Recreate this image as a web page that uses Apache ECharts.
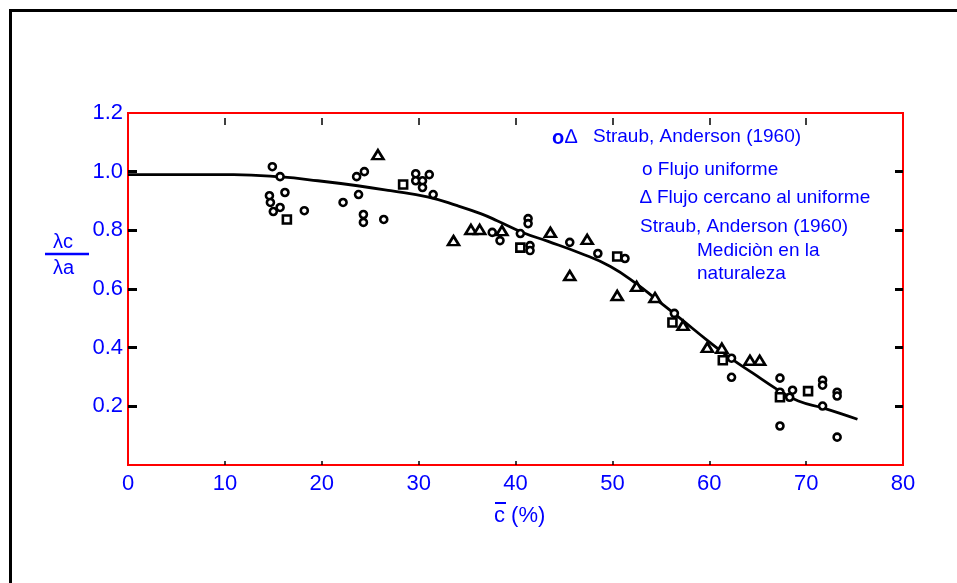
<!DOCTYPE html>
<html>
<head>
<meta charset="utf-8">
<script src="https://cdn.jsdelivr.net/npm/echarts@6/dist/echarts.min.js"></script>
<style>
  html, body { margin: 0; padding: 0; background: #ffffff; }
  #chart { width: 957px; height: 583px; }
</style>
</head>
<body>
<div id="chart"></div>
<script>
// Fitted curve of lambda_c / lambda_a against mean concentration c (%)
const curveX = [0, 5, 10.9, 15.8, 19.6, 23.7, 27.1, 30.9, 34.0, 36.4, 38.1, 40.8, 43.3, 46.7, 49.8, 52.6, 54.4, 57.0, 59.8, 62.2, 64.5, 67.0, 69.2, 71.8, 75.3];
const curveY = [0.99, 0.99, 0.99, 0.982, 0.969, 0.952, 0.935, 0.914, 0.884, 0.857, 0.833, 0.792, 0.763, 0.722, 0.677, 0.615, 0.568, 0.500, 0.425, 0.364, 0.313, 0.258, 0.218, 0.194, 0.156];

// Uniform flow (o)
const circleX = [14.9, 15.7, 14.6, 14.7, 16.2, 15.7, 15.0, 18.2, 22.2, 23.8, 23.6, 24.4, 24.3, 24.3, 26.4, 29.7, 31.1, 29.7, 30.4, 30.4, 31.5, 37.6, 38.4, 40.5, 41.3, 41.3, 41.5, 41.5, 45.6, 48.5, 51.3, 56.4, 62.3, 62.3, 67.3, 67.3, 68.6, 68.3, 71.7, 71.7, 71.7, 73.2, 73.2, 67.3, 73.2];
const circleY = [1.017, 0.983, 0.918, 0.895, 0.929, 0.878, 0.864, 0.867, 0.895, 0.922, 0.983, 1.0, 0.854, 0.827, 0.837, 0.993, 0.99, 0.969, 0.969, 0.946, 0.922, 0.793, 0.765, 0.789, 0.840, 0.823, 0.748, 0.731, 0.759, 0.721, 0.704, 0.517, 0.364, 0.299, 0.296, 0.248, 0.255, 0.231, 0.289, 0.272, 0.201, 0.248, 0.235, 0.133, 0.095];

// Field measurements (squares)
const squareX = [16.4, 28.4, 40.5, 50.5, 56.2, 61.4, 67.3, 70.2];
const squareY = [0.837, 0.956, 0.741, 0.711, 0.486, 0.357, 0.231, 0.252];

// Near-uniform flow (triangles)
const triangleX = [25.8, 33.6, 35.4, 36.3, 38.6, 43.6, 47.4, 45.6, 50.5, 52.5, 54.4, 57.3, 59.8, 61.3, 64.2, 65.2];
const triangleY = [1.058, 0.765, 0.803, 0.803, 0.799, 0.793, 0.769, 0.646, 0.578, 0.609, 0.571, 0.476, 0.401, 0.398, 0.357, 0.357];

// Axis ticks and labels
const xTickValues = [10, 20, 30, 40, 50, 60, 70];
const xLabelValues = [0, 10, 20, 30, 40, 50, 60, 70, 80];
const yTickValues = [0.2, 0.4, 0.6, 0.8, 1.0];
const yLabelValues = [0.2, 0.4, 0.6, 0.8, 1.0, 1.2];

const pairs = (xs, ys) => xs.map((x, i) => [x, ys[i]]);

const BLUE = '#0000ff';
const FONT = '"Liberation Sans", Arial, sans-serif';

const chart = echarts.init(document.getElementById('chart'), null, { renderer: 'canvas' });

const blueText = (text, x, y, size, extra) => ({
  type: 'text', x: x, y: y, silent: true, z: 10,
  style: Object.assign({
    text: text, fill: BLUE, fontSize: size, fontFamily: FONT,
    align: 'left', verticalAlign: 'middle'
  }, extra || {})
});

const hiddenLine = { show: false, onZero: false };
const markStyle = { color: '#fff', borderColor: '#000', borderWidth: 2.6, opacity: 1 };

const option = {
  animation: false,
  backgroundColor: '#ffffff',
  grid: {
    left: 128, top: 113, width: 775, height: 352,
    show: true, borderColor: '#ff0000', borderWidth: 2, backgroundColor: 'transparent'
  },
  xAxis: [
    {
      type: 'value', min: 0, max: 80, interval: 10, position: 'bottom',
      axisLine: hiddenLine, splitLine: { show: false },
      axisTick: { show: true, inside: true, length: 4, lineStyle: { color: '#000', width: 1.5 }, customValues: xTickValues },
      axisLabel: { color: BLUE, fontSize: 22, fontFamily: FONT, margin: 8, customValues: xLabelValues }
    },
    {
      type: 'value', min: 0, max: 80, interval: 10, position: 'top', offset: -5,
      axisLine: hiddenLine, splitLine: { show: false }, axisLabel: { show: false },
      axisTick: { show: true, inside: true, length: 7, lineStyle: { color: '#000', width: 1.5 }, customValues: xTickValues }
    }
  ],
  yAxis: [
    {
      type: 'value', min: 0, max: 1.2, interval: 0.2, position: 'left',
      axisLine: hiddenLine, splitLine: { show: false },
      axisTick: { show: true, inside: true, length: 9, lineStyle: { color: '#000', width: 3 }, customValues: yTickValues },
      axisLabel: {
        color: BLUE, fontSize: 22, fontFamily: FONT, margin: 5, customValues: yLabelValues,
        formatter: v => v.toFixed(1)
      }
    },
    {
      type: 'value', min: 0, max: 1.2, interval: 0.2, position: 'right',
      axisLine: hiddenLine, splitLine: { show: false }, axisLabel: { show: false },
      axisTick: { show: true, inside: true, length: 8, lineStyle: { color: '#000', width: 3 }, customValues: yTickValues }
    }
  ],
  series: [
    {
      type: 'line', data: pairs(curveX, curveY), smooth: 0.45, symbol: 'none', silent: true, z: 2,
      lineStyle: { color: '#000', width: 2.8 }
    },
    {
      type: 'scatter', data: pairs(circleX, circleY), symbol: 'circle', symbolSize: 7, silent: true, z: 3,
      itemStyle: markStyle
    },
    {
      type: 'scatter', data: pairs(squareX, squareY), symbol: 'rect', symbolSize: 8, silent: true, z: 3,
      itemStyle: markStyle
    },
    {
      type: 'scatter', data: pairs(triangleX, triangleY), symbol: 'triangle', symbolSize: [11, 9], silent: true, z: 3,
      itemStyle: markStyle
    }
  ],
  graphic: [
    // outer frame
    { type: 'rect', silent: true, z: -1, shape: { x: 10.5, y: 10.5, width: 1000, height: 1000 },
      style: { fill: 'none', stroke: '#000', lineWidth: 3 } },
    // y-axis name: lambda_c over lambda_a
    blueText('\u03bbc', 53, 242, 20),
    { type: 'line', silent: true, z: 10, shape: { x1: 45, y1: 254, x2: 89, y2: 254 },
      style: { stroke: BLUE, lineWidth: 2.5 } },
    blueText('\u03bba', 53, 268, 20),
    // x-axis name: c-bar (%)
    blueText('c (%)', 494, 516, 22),
    { type: 'line', silent: true, z: 10, shape: { x1: 495, y1: 503, x2: 506, y2: 503 },
      style: { stroke: BLUE, lineWidth: 2 } },
    // legend notes
    blueText('o', 552, 138, 20, { fontWeight: 'bold' }),
    blueText('\u2206', 565, 137, 20),
    blueText('Straub, Anderson (1960)', 593, 137, 19),
    blueText('o Flujo uniforme', 642, 170, 19),
    blueText('\u2206 Flujo cercano al uniforme', 640, 198, 19),
    blueText('Straub, Anderson (1960)', 640, 227, 19),
    blueText('Medici\u00f2n en la', 697, 251, 19),
    blueText('naturaleza', 697, 274, 19)
  ]
};

chart.setOption(option);
</script>
</body>
</html>
